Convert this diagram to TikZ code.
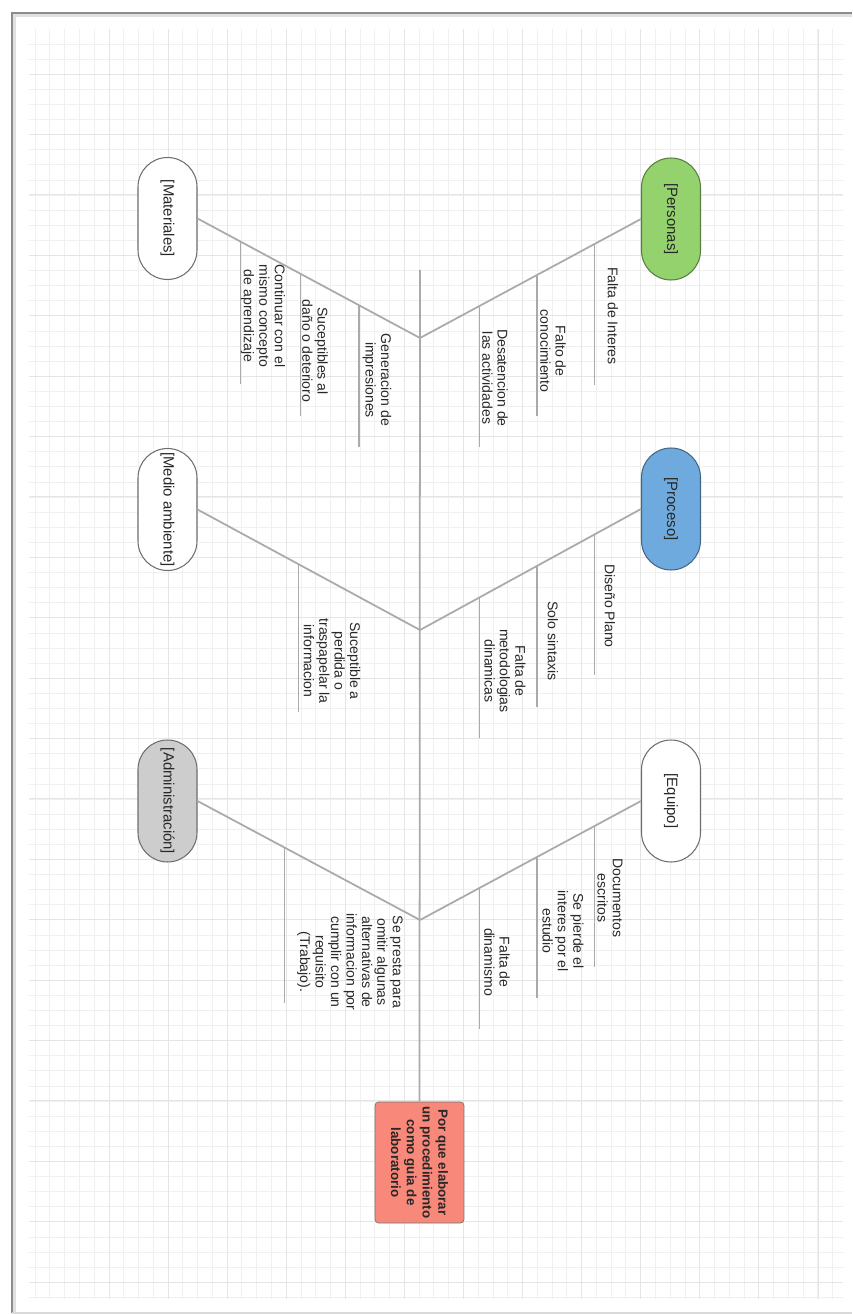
\documentclass[tikz,border=0pt]{standalone}
\usepackage{fontspec}
\setmainfont{Liberation Sans}
\usetikzlibrary{calc}
\definecolor{textgray}{RGB}{40,40,40}
\definecolor{bonegray}{RGB}{170,170,170}
\definecolor{catline}{RGB}{110,110,110}
\definecolor{persgreen}{RGB}{147,210,108}
\definecolor{procblue}{RGB}{111,170,222}
\definecolor{admgray}{RGB}{205,205,205}
\definecolor{headred}{RGB}{248,136,122}
\begin{document}
\begin{tikzpicture}[x=0.02cm,y=-0.02cm,
  every node/.style={font=\fontsize{8}{8.8}\selectfont,text=textgray},
  cause/.style={draw=catline,line width=0.6pt,rounded corners=0.59cm,rotate=-90,
    minimum width=2.44cm,minimum height=1.18cm,inner sep=2pt,font=\fontsize{8.5}{10}\selectfont},
  sub/.style={rotate=-90,align=center,inner sep=1pt},
  bone/.style={draw=bonegray,line width=1pt},
  twig/.style={draw=bonegray,line width=0.8pt},
  gridminor/.style={draw=black!6,line width=0.4pt},
  gridmajor/.style={draw=black!10,line width=0.5pt}]
\useasboundingbox (0,0) rectangle (852,1314);
% paper and grid
\fill[white] (0,0) rectangle (852,1314);
\foreach \i in {0,...,54} \draw[gridminor] ({35+14.77*\i},29) -- ({35+14.77*\i},1299);
\foreach \j in {0,...,83} \draw[gridminor] (29,{44+15.1*\j}) -- (843,{44+15.1*\j});
\foreach \i in {0,...,12} \draw[gridmajor] ({109+59.08*\i},29) -- ({109+59.08*\i},1299);
\foreach \j in {0,...,20} \draw[gridmajor] (29,{74+60.4*\j}) -- (843,{74+60.4*\j});
\draw[black!12,line width=2pt] (14,1313) -- (14,15) -- (852,15);
\draw[black!45,line width=1pt] (12,1313) -- (12,13) -- (852,13);
\draw[black!15,line width=1pt] (12,1313) -- (852,1313);
% head and spine
\node[draw=black!55,fill=headred,rounded corners=2pt,rotate=-90,minimum width=2.42cm,
  minimum height=1.78cm,align=center,inner sep=2pt,font=\fontsize{7.6}{9}\selectfont\bfseries]
  (head) at (419.5,1162.5) {Por que elaborar\\un procedimiento\\como guia de\\laboratorio};
\coordinate (top) at (420,270);
\coordinate (j1) at (420,338);
\coordinate (j2) at (420,630);
\coordinate (j3) at (420,920);
\draw[bone] (top) -- (head.west);
% right side: Personas, Proceso, Equipo
\node[cause,fill=persgreen,draw=persgreen!60!black] (pers) at (671,219) {[Personas]};
\node[cause,fill=procblue,draw=procblue!60!black] (proc) at (671,509) {[Proceso]};
\node[cause,fill=white] (equi) at (671,801) {[Equipo]};
\draw[bone] (pers.south) -- (j1);
\draw[bone] (proc.south) -- (j2);
\draw[bone] (equi.south) -- (j3);
\foreach \t in {0.21,0.47,0.73} {
  \draw[twig] ($(pers.south)!\t!(j1)$) -- ++(0,141);
  \draw[twig] ($(proc.south)!\t!(j2)$) -- ++(0,141);
  \draw[twig] ($(equi.south)!\t!(j3)$) -- ++(0,141);
}
\node[sub] (p1) at (613,316) {Falta de Interes};
\node[sub] (p2) at (553,351) {Falto de\\conocimiento};
\node[sub] (p3) at (495,378) {Desatencion de\\las actividades};
\node[sub] (r1) at (610,606) {Diseño Plano};
\node[sub] (r2) at (553,641) {Solo sintaxis};
\node[sub] (r3) at (505,671) {Falta de\\metodologias\\dinamicas};
\node[sub] (e1) at (610,898) {Documentos\\escritos};
\node[sub] (e2) at (563,931) {Se pierde el\\interes por el\\estudio};
\node[sub] (e3) at (497,962) {Falta de\\dinamismo};
% left side: Materiales, Medio ambiente, Administracion
\node[cause,fill=white] (mate) at (167.5,218.5) {[Materiales]};
\node[cause,fill=white] (medi) at (167.5,509.5) {[Medio ambiente]};
\node[cause,fill=admgray] (admi) at (167.5,801) {[Administración]};
\draw[bone] (mate.north) -- (j1);
\draw[bone] (medi.north) -- (j2);
\draw[bone] (admi.north) -- (j3);
\foreach \t in {0.194,0.464,0.725} \draw[twig] ($(mate.north)!\t!(j1)$) -- ++(0,142);
\draw[twig] ($(medi.north)!0.455!(j2)$) -- ++(0,148);
\draw[twig] ($(admi.north)!0.392!(j3)$) -- ++(0,155);
\node[sub] (m1) at (377,380) {Generacion de\\impresiones};
\node[sub] (m2) at (315,351) {Suceptibles al\\daño o deterioro};
\node[sub] (m3) at (263,316) {Continuar con el\\mismo concepto\\de aprendizaje};
\node[sub] (d1) at (332,661) {Suceptible a\\perdida o\\traspapelar la\\informacion};
\node[sub] (a1) at (350,962) {Se presta para\\omitir algunas\\alternativas de\\informacion por\\cumplir con un\\requisito\\(Trabajo).};
\end{tikzpicture}
\end{document}
